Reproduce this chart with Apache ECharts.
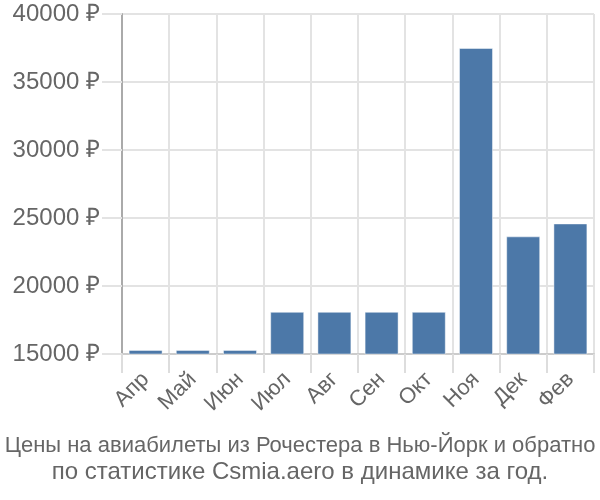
<!DOCTYPE html>
<html>
<head>
<meta charset="utf-8">
<script src="https://cdn.jsdelivr.net/npm/echarts@6/dist/echarts.min.js"></script>
<style>html,body{margin:0;padding:0;background:#fff}#c{width:600px;height:500px}</style>
</head>
<body>
<div id="c"></div>
<script>
const categories = ['Апр','Май','Июн','Июл','Авг','Сен','Окт','Ноя','Дек','Фев'];
const prices = [15300,15300,15300,18100,18100,18100,18100,37500,23650,24600];
const yMin = 15000, yMax = 40000, yStep = 5000;
const titleLines = ['Цены на авиабилеты из Рочестера в Нью-Йорк и обратно','по статистике Csmia.aero в динамике за год.'];

const chart = echarts.init(document.getElementById('c'), null, {renderer:'canvas'});
chart.setOption({
  animation:false,
  title:{
    text: '{a|' + titleLines[0] + '}\n{b|' + titleLines[1] + '}',
    left:'center', bottom:10,
    textStyle:{
      fontFamily:'Liberation Sans', fontWeight:'normal', fontSize:22, color:'#666', lineHeight:26,
      rich:{
        a:{fontFamily:'Liberation Sans', fontSize:22, color:'#666', lineHeight:26, align:'center'},
        b:{fontFamily:'Liberation Sans', fontSize:24, color:'#666', lineHeight:26, align:'center'}
      }
    }
  },
  grid:{left:122,right:6,top:14,bottom:146,containLabel:false},
  xAxis:{
    type:'category', data:categories,
    axisLine:{show:true,lineStyle:{color:'#ccc',width:2}},
    axisTick:{show:true,length:19,lineStyle:{color:'#ddd',width:2}},
    splitLine:{show:true,lineStyle:{color:'#e3e3e3',width:2}},
    axisLabel:{rotate:45,margin:22,fontSize:22,color:'#666',fontFamily:'Liberation Sans'}
  },
  yAxis:{
    type:'value', min:yMin, max:yMax, interval:yStep,
    axisLine:{show:true,lineStyle:{color:'#aaa',width:2}},
    axisTick:{show:true,length:20,lineStyle:{color:'#e3e3e3',width:2}},
    splitLine:{show:true,lineStyle:{color:'#e3e3e3',width:2}},
    axisLabel:{formatter:function(v){return v + ' ₽';},margin:22,fontSize:24,color:'#666',fontFamily:'Liberation Sans'}
  },
  series:[{
    type:'bar', data:prices, barCategoryGap:'28%',
    itemStyle:{color:'#4c78a8',borderColor:'rgba(255,255,255,0.45)',borderWidth:1}
  }]
});
</script>
</body>
</html>
